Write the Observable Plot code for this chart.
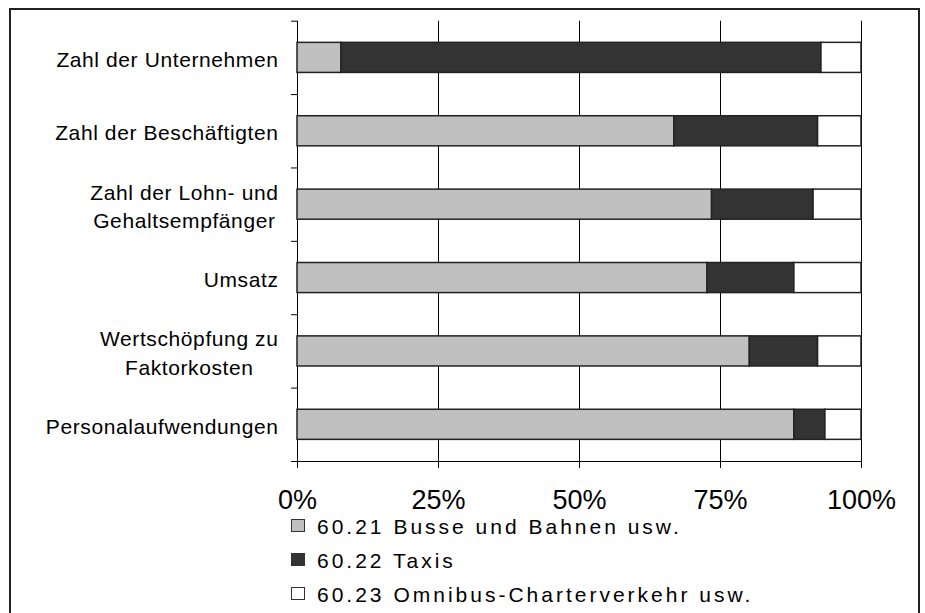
<!DOCTYPE html>
<html><head><meta charset="utf-8">
<script src="https://cdn.jsdelivr.net/npm/d3@7"></script>
<script src="https://cdn.jsdelivr.net/npm/@observablehq/plot@0.6"></script>
<style>
body{margin:0;background:#fff;font-family:"Liberation Sans",Arial,sans-serif;}
#wrap{position:relative;width:925px;height:613px;overflow:hidden;background:#fff;}
#frame{position:absolute;left:9px;top:8px;width:911px;height:640px;border:2px solid #222;box-sizing:border-box;}
#chart{position:absolute;left:0;top:0;}
#chart g[aria-label="y-axis tick label"]{letter-spacing:0.6px;}
#legend{position:absolute;left:291px;top:510px;}
.row{position:relative;height:34px;line-height:34px;font-size:21px;letter-spacing:3px;color:#000;white-space:nowrap;}
.sw{position:absolute;left:0;top:9px;width:14px;height:13px;border:1.5px solid #333;box-sizing:border-box;}
.lt{margin-left:26px;}
</style>
</head><body>
<div id="wrap"><div id="frame"></div><div id="chart"></div><div id="legend"></div></div>
<script>
const categories = ["Zahl der Unternehmen", "Zahl der Beschäftigten", "Zahl der Lohn- und\nGehaltsempfänger", "Umsatz", "Wertschöpfung zu\nFaktorkosten", "Personalaufwendungen"];
const series = ["60.21 Busse und Bahnen usw.", "60.22 Taxis", "60.23 Omnibus-Charterverkehr usw."];
const busse   = [7.8, 66.8, 73.5, 72.7, 80.2, 88.1];
const taxis   = [85.1, 25.5, 18.0, 15.4, 12.1, 5.5];
const charter = [7.1, 7.7, 8.5, 11.9, 7.7, 6.4];
const xTicks = [0, 25, 50, 75, 100];
const colors = ["#c0c0c0", "#333333", "#ffffff"];

const seriesValues = [busse, taxis, charter];
const data = [];
categories.forEach((c, i) => {
  let acc = 0;
  series.forEach((s, j) => {
    const v = seriesValues[j][i];
    data.push({i, cat: c, series: s, x1: acc, x2: acc + v});
    acc += v;
  });
});

const chart = Plot.plot({
  width: 925, height: 540,
  marginLeft: 297, marginRight: 64, marginTop: 20.7, marginBottom: 79,
  style: {fontFamily: "Liberation Sans, Arial, sans-serif", color: "#000", background: "transparent"},
  x: {domain: [0, 100]},
  y: {domain: [0, categories.length], reverse: true},
  color: {domain: series, range: colors},
  marks: [
    Plot.ruleX(xTicks, {y1: 0, y2: categories.length, stroke: "#000", strokeWidth: 1}),
    Plot.ruleY([categories.length], {x1: 0, x2: 100, stroke: "#000"}),
    Plot.rectX(data, {x1: "x1", x2: "x2", y1: d => d.i + 0.295, y2: d => d.i + 0.705, fill: "series", stroke: "#222", strokeWidth: 1.5}),
    Plot.axisX({ticks: xTicks, tickFormat: d => d + "%", tickSize: 7, tickPadding: 21, fontSize: 27, label: null}),
    Plot.axisY({ticks: d3.range(categories.length + 1), tickSize: 6, tickFormat: () => "", label: null}),
    Plot.axisY({ticks: categories.map((c, i) => i + 0.5), tickSize: 0, tickPadding: 19, tickFormat: v => categories[Math.floor(v)], fontSize: 21, lineHeight: 1.35, label: null})
  ]
});
document.getElementById("chart").appendChild(chart);

// center the lines of multi-line category labels on each other
chart.querySelectorAll('g[aria-label="y-axis tick label"] text').forEach(t => {
  const spans = t.querySelectorAll("tspan");
  if (spans.length > 1) {
    const b = t.getBBox();
    const cx = b.x + b.width / 2;
    t.setAttribute("text-anchor", "middle");
    spans.forEach(s => s.setAttribute("x", cx));
  }
});

const legend = document.getElementById("legend");
series.forEach((s, j) => {
  const row = document.createElement("div");
  row.className = "row";
  const sw = document.createElement("span");
  sw.className = "sw";
  sw.style.background = colors[j];
  const lt = document.createElement("span");
  lt.className = "lt";
  lt.textContent = s;
  row.appendChild(sw);
  row.appendChild(lt);
  legend.appendChild(row);
});
</script>
</body></html>
